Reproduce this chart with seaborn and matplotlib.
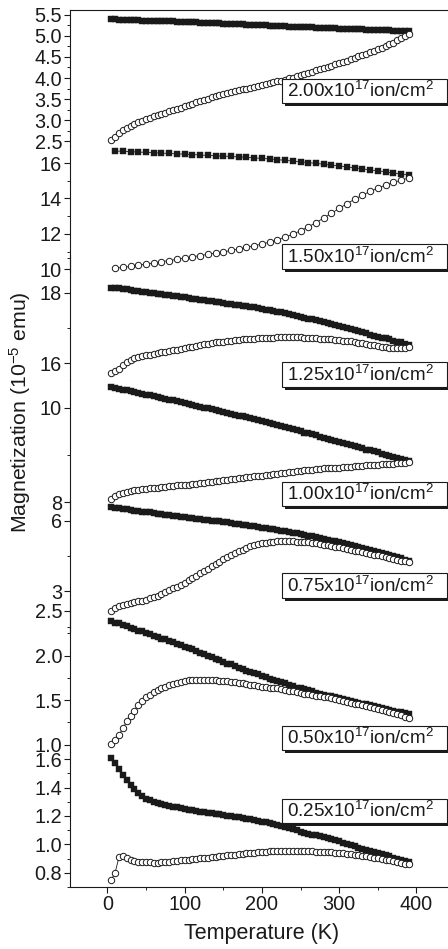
import numpy as np
import pandas as pd
import matplotlib
matplotlib.use("Agg")
import matplotlib.pyplot as plt
import seaborn as sns
from matplotlib import patheffects
from matplotlib.patches import Rectangle
from matplotlib.ticker import MultipleLocator

# ---------------------------------------------------------------- data
# temperature grids of the sweeps (K)
T_fine = np.arange(5, 391, 5)
T_coarse = np.arange(10, 391, 10)

doses = ["2.00", "1.50", "1.25", "1.00", "0.75", "0.50", "0.25"]

fc_200 = [5.40, 5.39, 5.38, 5.375, 5.37, 5.37, 5.365, 5.365, 5.36, 5.36,
          5.355, 5.35, 5.35, 5.345, 5.345, 5.34, 5.34, 5.335, 5.33, 5.33,
          5.325, 5.32, 5.32, 5.315, 5.31, 5.305, 5.30, 5.30, 5.295, 5.29,
          5.285, 5.28, 5.28, 5.275, 5.27, 5.265, 5.26, 5.26, 5.255, 5.25,
          5.245, 5.24, 5.24, 5.235, 5.23, 5.225, 5.22, 5.22, 5.215, 5.21,
          5.205, 5.20, 5.20, 5.195, 5.19, 5.185, 5.18, 5.18, 5.175, 5.17,
          5.165, 5.16, 5.16, 5.155, 5.15, 5.15, 5.145, 5.14, 5.14, 5.14,
          5.135, 5.13, 5.13, 5.125, 5.12, 5.12, 5.115, 5.11]
zfc_200 = [2.52, 2.60, 2.69, 2.76, 2.82, 2.87, 2.91, 2.95, 2.99, 3.03,
           3.06, 3.09, 3.12, 3.15, 3.18, 3.21, 3.24, 3.27, 3.30, 3.33,
           3.36, 3.39, 3.42, 3.45, 3.48, 3.51, 3.54, 3.57, 3.60, 3.62,
           3.64, 3.66, 3.69, 3.71, 3.73, 3.75, 3.77, 3.79, 3.81, 3.84,
           3.86, 3.88, 3.90, 3.92, 3.94, 3.96, 3.99, 4.01, 4.04, 4.07,
           4.10, 4.12, 4.15, 4.18, 4.21, 4.23, 4.26, 4.29, 4.32, 4.35,
           4.38, 4.41, 4.44, 4.47, 4.51, 4.54, 4.57, 4.61, 4.64, 4.68,
           4.72, 4.76, 4.80, 4.84, 4.89, 4.94, 4.99, 5.04]

fc_150 = [16.68, 16.66, 16.64, 16.62, 16.60, 16.58, 16.56, 16.54, 16.52, 16.50,
          16.48, 16.45, 16.43, 16.41, 16.39, 16.37, 16.34, 16.32, 16.29, 16.26,
          16.23, 16.19, 16.15, 16.11, 16.07, 16.02, 15.98, 15.93, 15.88, 15.83,
          15.78, 15.73, 15.67, 15.61, 15.56, 15.50, 15.44, 15.38, 15.32]
zfc_150 = [10.05, 10.10, 10.16, 10.22, 10.29, 10.35, 10.42, 10.49, 10.56, 10.63,
           10.70, 10.77, 10.84, 10.91, 10.98, 11.06, 11.14, 11.23, 11.32, 11.42,
           11.53, 11.66, 11.81, 11.98, 12.17, 12.39, 12.63, 12.89, 13.16, 13.43,
           13.70, 13.95, 14.18, 14.39, 14.58, 14.75, 14.90, 15.03, 15.15]

fc_125 = [18.15, 18.14, 18.13, 18.12, 18.10, 18.08, 18.06, 18.05, 18.03, 18.02,
          18.00, 17.99, 17.98, 17.96, 17.95, 17.94, 17.92, 17.91, 17.89, 17.88,
          17.86, 17.84, 17.83, 17.81, 17.80, 17.78, 17.77, 17.75, 17.74, 17.72,
          17.70, 17.69, 17.67, 17.65, 17.64, 17.62, 17.60, 17.59, 17.57, 17.55,
          17.53, 17.51, 17.49, 17.47, 17.45, 17.43, 17.40, 17.38, 17.35, 17.32,
          17.30, 17.27, 17.25, 17.22, 17.20, 17.17, 17.15, 17.12, 17.09, 17.06,
          17.03, 17.00, 16.97, 16.94, 16.91, 16.88, 16.85, 16.82, 16.79, 16.76,
          16.73, 16.71, 16.68, 16.65, 16.62, 16.60, 16.56, 16.53]
zfc_125 = [15.74, 15.79, 15.85, 15.95, 16.05, 16.11, 16.15, 16.19, 16.21, 16.23,
           16.25, 16.27, 16.29, 16.31, 16.33, 16.35, 16.37, 16.39, 16.41, 16.44,
           16.46, 16.48, 16.50, 16.52, 16.54, 16.56, 16.58, 16.60, 16.61, 16.62,
           16.64, 16.65, 16.66, 16.67, 16.68, 16.69, 16.70, 16.70, 16.71, 16.72,
           16.72, 16.73, 16.73, 16.74, 16.74, 16.75, 16.75, 16.75, 16.74, 16.74,
           16.73, 16.72, 16.72, 16.71, 16.70, 16.69, 16.69, 16.68, 16.67, 16.66,
           16.65, 16.64, 16.63, 16.61, 16.59, 16.57, 16.55, 16.53, 16.51, 16.50,
           16.48, 16.46, 16.45, 16.44, 16.44, 16.44, 16.45, 16.47]

fc_100 = [10.44, 10.42, 10.40, 10.38, 10.37, 10.35, 10.33, 10.31, 10.29, 10.27,
          10.26, 10.24, 10.22, 10.20, 10.18, 10.16, 10.15, 10.13, 10.11, 10.09,
          10.07, 10.05, 10.04, 10.02, 10.00, 9.98, 9.96, 9.94, 9.93, 9.91,
          9.89, 9.87, 9.85, 9.83, 9.81, 9.79, 9.78, 9.76, 9.74, 9.72,
          9.70, 9.68, 9.65, 9.63, 9.61, 9.59, 9.56, 9.54, 9.52, 9.50,
          9.47, 9.45, 9.43, 9.41, 9.38, 9.36, 9.34, 9.32, 9.29, 9.27,
          9.25, 9.23, 9.20, 9.18, 9.16, 9.14, 9.11, 9.09, 9.07, 9.05,
          9.02, 9.00, 8.98, 8.95, 8.93, 8.91, 8.88, 8.86]
zfc_100 = [8.07, 8.13, 8.17, 8.20, 8.22, 8.24, 8.25, 8.26, 8.27, 8.28,
           8.29, 8.29, 8.30, 8.31, 8.32, 8.33, 8.34, 8.35, 8.35, 8.36,
           8.37, 8.38, 8.39, 8.40, 8.41, 8.42, 8.43, 8.44, 8.45, 8.46,
           8.47, 8.48, 8.49, 8.50, 8.51, 8.52, 8.53, 8.54, 8.55, 8.56,
           8.57, 8.58, 8.59, 8.60, 8.61, 8.62, 8.63, 8.64, 8.65, 8.66,
           8.67, 8.67, 8.68, 8.69, 8.70, 8.71, 8.71, 8.72, 8.73, 8.73,
           8.74, 8.75, 8.75, 8.76, 8.77, 8.77, 8.78, 8.78, 8.79, 8.79,
           8.80, 8.80, 8.81, 8.81, 8.82, 8.82, 8.83, 8.84]

fc_075 = [6.56, 6.53, 6.51, 6.49, 6.47, 6.45, 6.42, 6.40, 6.38, 6.36,
          6.34, 6.32, 6.29, 6.27, 6.25, 6.23, 6.21, 6.19, 6.16, 6.14,
          6.12, 6.10, 6.08, 6.06, 6.04, 6.02, 6.00, 5.98, 5.96, 5.94,
          5.92, 5.89, 5.87, 5.85, 5.82, 5.80, 5.78, 5.75, 5.73, 5.70,
          5.68, 5.65, 5.62, 5.60, 5.57, 5.54, 5.51, 5.48, 5.45, 5.42,
          5.39, 5.36, 5.33, 5.29, 5.26, 5.22, 5.19, 5.15, 5.12, 5.08,
          5.04, 5.00, 4.96, 4.92, 4.88, 4.84, 4.80, 4.76, 4.72, 4.67,
          4.63, 4.58, 4.54, 4.49, 4.44, 4.39, 4.33, 4.27]
zfc_075 = [2.16, 2.28, 2.36, 2.42, 2.46, 2.50, 2.53, 2.57, 2.61, 2.65,
           2.70, 2.76, 2.82, 2.89, 2.96, 3.04, 3.12, 3.20, 3.28, 3.37,
           3.46, 3.56, 3.66, 3.76, 3.86, 3.96, 4.06, 4.16, 4.26, 4.36,
           4.45, 4.54, 4.62, 4.70, 4.77, 4.84, 4.90, 4.95, 4.99, 5.03,
           5.06, 5.08, 5.10, 5.12, 5.13, 5.13, 5.13, 5.12, 5.11, 5.10,
           5.09, 5.07, 5.05, 5.03, 5.01, 4.98, 4.95, 4.92, 4.89, 4.86,
           4.82, 4.79, 4.76, 4.72, 4.69, 4.65, 4.62, 4.59, 4.55, 4.52,
           4.48, 4.45, 4.41, 4.38, 4.34, 4.30, 4.27, 4.23]

fc_050 = [2.39, 2.37, 2.36, 2.34, 2.33, 2.31, 2.30, 2.28, 2.27, 2.25,
          2.24, 2.22, 2.21, 2.19, 2.18, 2.16, 2.15, 2.13, 2.12, 2.10,
          2.08, 2.07, 2.05, 2.03, 2.02, 2.00, 1.98, 1.96, 1.95, 1.93,
          1.91, 1.90, 1.88, 1.86, 1.85, 1.83, 1.82, 1.80, 1.79, 1.77,
          1.76, 1.74, 1.73, 1.71, 1.70, 1.69, 1.67, 1.66, 1.64, 1.63,
          1.62, 1.61, 1.60, 1.58, 1.57, 1.56, 1.55, 1.54, 1.53, 1.52,
          1.51, 1.50, 1.49, 1.48, 1.47, 1.46, 1.45, 1.44, 1.43, 1.42,
          1.41, 1.40, 1.39, 1.38, 1.37, 1.36, 1.35, 1.34]
zfc_050 = [1.01, 1.05, 1.11, 1.18, 1.26, 1.32, 1.38, 1.44, 1.49, 1.53,
           1.56, 1.59, 1.61, 1.63, 1.65, 1.67, 1.68, 1.69, 1.70, 1.71,
           1.72, 1.72, 1.72, 1.72, 1.72, 1.72, 1.72, 1.72, 1.71, 1.71,
           1.71, 1.70, 1.70, 1.69, 1.69, 1.68, 1.67, 1.67, 1.66, 1.65,
           1.65, 1.64, 1.63, 1.63, 1.62, 1.61, 1.60, 1.60, 1.59, 1.58,
           1.57, 1.57, 1.56, 1.55, 1.54, 1.53, 1.53, 1.52, 1.51, 1.50,
           1.49, 1.48, 1.47, 1.46, 1.45, 1.44, 1.43, 1.42, 1.41, 1.40,
           1.39, 1.38, 1.37, 1.35, 1.34, 1.33, 1.31, 1.30]

fc_025 = [1.61, 1.57, 1.53, 1.49, 1.45, 1.42, 1.39, 1.36, 1.34, 1.32,
          1.31, 1.30, 1.29, 1.285, 1.28, 1.27, 1.265, 1.26, 1.255, 1.25,
          1.245, 1.24, 1.235, 1.23, 1.226, 1.222, 1.218, 1.214, 1.21, 1.206,
          1.202, 1.198, 1.194, 1.19, 1.185, 1.18, 1.175, 1.17, 1.165, 1.16,
          1.154, 1.148, 1.142, 1.136, 1.13, 1.124, 1.117, 1.11, 1.10, 1.09,
          1.083, 1.076, 1.069, 1.062, 1.055, 1.048, 1.041, 1.034, 1.027, 1.02,
          1.012, 1.003, 0.994, 0.985, 0.976, 0.968, 0.96, 0.952, 0.944, 0.936,
          0.929, 0.922, 0.915, 0.907, 0.899, 0.892, 0.885, 0.877]
zfc_025 = [0.75, 0.80, 0.91, 0.92, 0.905, 0.892, 0.884, 0.878, 0.875, 0.873,
           0.872, 0.871, 0.871, 0.872, 0.874, 0.877, 0.880, 0.883, 0.886, 0.889,
           0.892, 0.895, 0.898, 0.901, 0.904, 0.907, 0.910, 0.913, 0.916, 0.919,
           0.922, 0.925, 0.928, 0.931, 0.934, 0.937, 0.940, 0.942, 0.944, 0.946,
           0.948, 0.950, 0.951, 0.952, 0.953, 0.954, 0.954, 0.954, 0.954, 0.953,
           0.952, 0.951, 0.950, 0.949, 0.948, 0.947, 0.945, 0.943, 0.941, 0.939,
           0.937, 0.935, 0.932, 0.928, 0.924, 0.920, 0.916, 0.912, 0.907, 0.902,
           0.897, 0.892, 0.886, 0.880, 0.874, 0.868, 0.863, 0.858]

# ---------------------------------------------------------------- style
sns.set_theme(style="ticks")
plt.rcParams["font.family"] = ["Liberation Sans", "DejaVu Sans"]
plt.rcParams.update({
    "mathtext.fontset": "custom",
    "mathtext.rm": "Liberation Sans",
    "mathtext.it": "Liberation Sans:italic",
    "mathtext.bf": "Liberation Sans:bold",
    "mathtext.sf": "Liberation Sans",
    "axes.linewidth": 0.8,
    "xtick.direction": "out",
    "ytick.direction": "out",
})

W, H = 448.0, 949.0
fig = plt.figure(figsize=(W / 100, H / 100), dpi=100)

X_LEFT, X_RIGHT = 70.0, 448.0          # frame edges in pixels
XLIM = (-48.4, 440.9)
TICK_FS = 14.3

# one layer per fluence: pixel band, a reference tick (value, pixel),
# pixels per unit, tick steps, tag height
layers = [
    dict(band=(10, 146), ref=(5.5, 14.7), ppu=42.2, major=0.5, minor=0.25,
         T=T_fine, fc=fc_200, zfc=zfc_200, label_y=91.0),
    dict(band=(146, 272), ref=(16, 163.0), ppu=17.7, major=2, minor=1,
         T=T_coarse, fc=fc_150, zfc=zfc_150, label_y=256.5),
    dict(band=(255, 380), ref=(18, 293.0), ppu=35.2, major=2, minor=1,
         T=T_fine, fc=fc_125, zfc=zfc_125, label_y=374.5),
    dict(band=(380, 510), ref=(10, 407.5), ppu=47.25, major=2, minor=1,
         T=T_fine, fc=fc_100, zfc=zfc_100, label_y=494.0),
    dict(band=(500, 632), ref=(6, 520.5), ppu=23.6, major=3, minor=1.5,
         T=T_fine, fc=fc_075, zfc=zfc_075, label_y=585.5),
    dict(band=(600, 752), ref=(2.0, 655.5), ppu=89.0, major=0.5, minor=0.25,
         T=T_fine, fc=fc_050, zfc=zfc_050, label_y=738.0),
    dict(band=(752, 887.3), ref=(0.8, 872.7), ppu=142.0, major=0.2, minor=0.1,
         T=T_fine, fc=fc_025, zfc=zfc_025, label_y=811.0),
]

BOX_X0, BOX_X1, BOX_H = 281.7, 447.0, 24.5

n = len(layers)
for i, (dose, L) in enumerate(zip(doses, layers)):
    top, bot = L["band"]
    v0, p0 = L["ref"]
    ax = fig.add_axes([X_LEFT / W, 1 - bot / H, (X_RIGHT - X_LEFT) / W, (bot - top) / H])
    ax.patch.set_visible(False)
    ax.set_xlim(*XLIM)
    ax.set_ylim(v0 - (bot - p0) / L["ppu"], v0 + (p0 - top) / L["ppu"])

    df_fc = pd.DataFrame({"T": L["T"], "M": L["fc"]})
    df_zfc = pd.DataFrame({"T": L["T"], "M": L["zfc"]})
    sns.lineplot(data=df_fc, x="T", y="M", ax=ax, color="k", linewidth=0.6,
                 marker="s", markersize=3.9, markerfacecolor="k",
                 markeredgecolor="k", markeredgewidth=0.3,
                 estimator=None, sort=False, clip_on=False)
    sns.lineplot(data=df_zfc, x="T", y="M", ax=ax, color="k", linewidth=0.6,
                 marker="o", markersize=4.6, markerfacecolor="white",
                 markeredgecolor="k", markeredgewidth=0.7,
                 estimator=None, sort=False, clip_on=False)

    ax.set_xlabel("")
    ax.set_ylabel("")
    ax.yaxis.set_major_locator(MultipleLocator(L["major"]))
    ax.yaxis.set_minor_locator(MultipleLocator(L["minor"]))
    ax.tick_params(axis="y", which="major", length=4.5, width=0.8, pad=1.2,
                   labelsize=TICK_FS, colors="k")
    ax.tick_params(axis="y", which="minor", length=2.5, width=0.7)
    ax.spines["right"].set_visible(False)
    ax.spines["top"].set_visible(i == 0)
    ax.spines["bottom"].set_visible(i == n - 1)
    for side in ("left", "top", "bottom"):
        ax.spines[side].set_color("k")

    if i == n - 1:
        ax.xaxis.set_major_locator(MultipleLocator(100))
        ax.xaxis.set_minor_locator(MultipleLocator(50))
        ax.tick_params(axis="x", which="major", length=4.5, width=0.8, pad=1.2,
                       labelsize=TICK_FS, colors="k")
        ax.tick_params(axis="x", which="minor", length=2.5, width=0.7)
    else:
        ax.tick_params(axis="x", which="both", bottom=False, labelbottom=False)

    # fluence tag: white box with a drop shadow
    yc = L["label_y"]
    box = Rectangle((BOX_X0 / W, 1 - (yc + BOX_H / 2) / H),
                    (BOX_X1 - BOX_X0) / W, BOX_H / H,
                    transform=fig.transFigure, fc="white", ec="k", lw=0.8,
                    zorder=19, clip_on=False)
    box.set_path_effects([
        patheffects.SimplePatchShadow(offset=(2.3, -2.3), shadow_rgbFace="k", alpha=1.0),
        patheffects.Normal(),
    ])
    fig.add_artist(box)
    fig.text(287.0 / W, 1 - yc / H, dose + r"x10$^{17}$ion/cm$^{2}$",
             ha="left", va="center", fontsize=13.6, color="k", zorder=20)

fig.text(20 / W, 1 - 412 / H, r"Magnetization (10$^{-5}$ emu)", rotation=90,
         ha="center", va="center", fontsize=15.3, color="k")
fig.text(262 / W, 1 - 934 / H, "Temperature (K)", ha="center", va="center",
         fontsize=15.5, color="k")

fig.savefig("out.png", dpi=100)
